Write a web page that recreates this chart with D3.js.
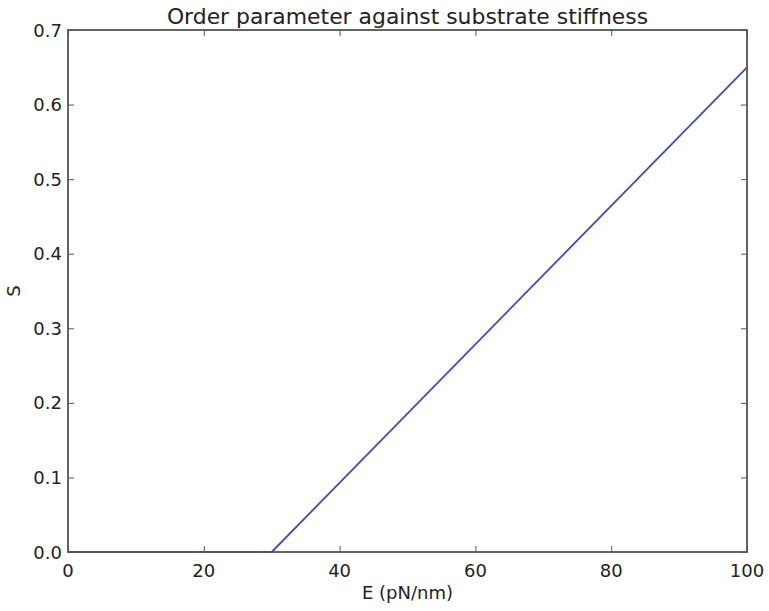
<!DOCTYPE html>
<html>
<head>
<meta charset="utf-8">
<script src="https://cdn.jsdelivr.net/npm/d3@7"></script>
<style>
  body { margin: 0; background: #fff; }
  text { font-family: "DejaVu Sans", sans-serif; fill: #222; }
</style>
</head>
<body>
<div id="chart"></div>
<script>
// data: S is 0 up to E = 30, then rises linearly to 0.65 at E = 100
var stiffness = [0, 30, 100];
var orderParam = [0, 0, 0.65];
var xTicks = [0, 20, 40, 60, 80, 100];
var yTicks = [0, 0.1, 0.2, 0.3, 0.4, 0.5, 0.6, 0.7];

var width = 769, height = 611;
var margin = {top: 30, right: 22, bottom: 59, left: 68};

var svg = d3.select("#chart")
	.append("svg")
	.attr("width", width)
	.attr("height", height);

var x = d3.scaleLinear().domain([0, 100]).range([margin.left, width - margin.right]);
var y = d3.scaleLinear().domain([0, 0.7]).range([height - margin.bottom, margin.top]);

var tickLen = 6;

// axes, ticks pointing inward like matplotlib classic
svg.append("g")
	.attr("transform", "translate(0," + y(0) + ")")
	.call(d3.axisTop(x).tickValues(xTicks).tickSize(tickLen).tickFormat(""));
svg.append("g")
	.attr("transform", "translate(0," + y(0.7) + ")")
	.call(d3.axisBottom(x).tickValues(xTicks).tickSize(tickLen).tickFormat(""));
svg.append("g")
	.attr("transform", "translate(" + x(0) + ",0)")
	.call(d3.axisRight(y).tickValues(yTicks).tickSize(tickLen).tickFormat(""));
svg.append("g")
	.attr("transform", "translate(" + x(100) + ",0)")
	.call(d3.axisLeft(y).tickValues(yTicks).tickSize(tickLen).tickFormat(""));

svg.selectAll(".domain").remove();
svg.selectAll(".tick line").style("stroke", "#555").style("stroke-width", 1);

// tick labels
svg.selectAll(".xlab")
	.data(xTicks)
	.enter().append("text")
	.attr("x", function(d) { return x(d); })
	.attr("y", y(0) + 25)
	.attr("text-anchor", "middle")
	.style("font-size", "18px")
	.text(function(d) { return d; });

svg.selectAll(".ylab")
	.data(yTicks)
	.enter().append("text")
	.attr("x", x(0) - 6)
	.attr("y", function(d) { return y(d) + 6.5; })
	.attr("text-anchor", "end")
	.style("font-size", "18px")
	.text(function(d) { return d3.format(".1f")(d); });

// the line
var line = d3.line()
	.x(function(d) { return x(d[0]); })
	.y(function(d) { return y(d[1]); });

svg.append("path")
	.datum(d3.zip(stiffness, orderParam))
	.attr("d", line)
	.style("fill", "none")
	.style("stroke", "#3f4cbf")
	.style("stroke-width", 1.8);

// frame on top
svg.append("rect")
	.attr("x", x(0))
	.attr("y", y(0.7))
	.attr("width", x(100) - x(0))
	.attr("height", y(0) - y(0.7))
	.style("fill", "none")
	.style("stroke", "#555")
	.style("stroke-width", 1.8);

// titles
svg.append("text")
	.attr("x", (x(0) + x(100)) / 2)
	.attr("y", 24)
	.attr("text-anchor", "middle")
	.style("font-size", "21.9px")
	.text("Order parameter against substrate stiffness");

svg.append("text")
	.attr("x", (x(0) + x(100)) / 2)
	.attr("y", 599)
	.attr("text-anchor", "middle")
	.style("font-size", "18px")
	.text("E (pN/nm)");

svg.append("text")
	.attr("transform", "translate(20," + ((y(0) + y(0.7)) / 2) + ") rotate(-90)")
	.attr("text-anchor", "middle")
	.style("font-size", "18px")
	.text("S");
</script>
</body>
</html>
